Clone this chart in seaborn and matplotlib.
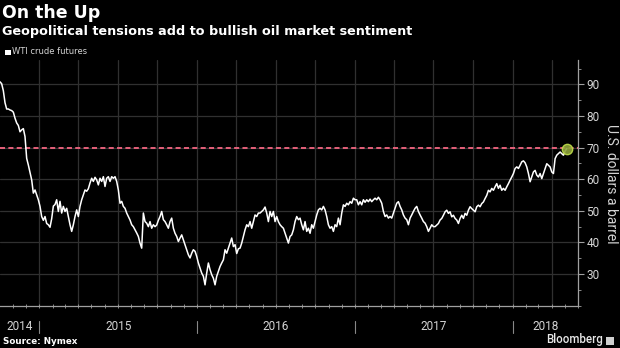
import matplotlib
matplotlib.use("Agg")
import matplotlib.pyplot as plt
import matplotlib.dates as mdates
from matplotlib.ticker import MultipleLocator, FixedLocator, NullFormatter
from matplotlib.patches import Rectangle
import matplotlib.transforms as mtransforms
import numpy as np
import pandas as pd
import seaborn as sns

# ---------------- data ----------------
start_date = "2014-10-02"
end_date = "2018-05-06"

prices_2014_2015 = [
    90.8, 90.2, 88.0, 84.2, 82.2, 82.2, 81.9, 81.7, 81.2, 79.3, 77.8, 77.0, 75.0, 75.6, 76.0, 73.5,
    66.6, 64.5, 62.2, 59.8, 55.6, 56.6, 55.0, 53.5, 51.4, 48.2, 47.0, 48.2, 46.0, 45.6, 44.8, 47.5,
    51.5, 52.0, 53.5, 49.8, 53.0, 49.3, 51.4, 49.8, 50.8, 48.2, 45.6, 43.5, 45.6, 48.2, 50.3, 48.2,
    51.4, 53.5, 55.0, 56.6, 56.2, 57.0, 58.8, 60.3, 59.3, 60.6, 59.8, 58.2, 60.3, 59.3, 60.8, 57.7,
    60.3, 60.8, 59.3, 60.8, 60.3, 60.8, 59.3, 56.6, 52.4, 53.0, 51.4, 50.8, 49.3, 48.2, 47.1, 45.6,
    45.0, 44.0, 43.0, 41.9, 39.8, 38.2, 49.3,
]
prices_2015_2016 = [
    46.6, 46.1, 45.0, 46.6, 44.5, 45.6, 45.0, 45.5, 47.0, 48.2, 49.8, 47.2, 46.6, 45.6, 44.5, 46.6,
    47.7, 44.5, 42.9, 41.9, 40.3, 41.4, 42.4, 40.8, 39.3, 37.7, 36.1, 35.1, 36.6, 37.7, 37.2, 35.6,
    33.5, 31.9, 30.3, 29.3, 26.6, 30.3, 33.5, 31.4, 29.8, 28.7, 26.6, 29.3, 30.8, 32.4, 33.5, 34.5,
    37.7, 36.6, 38.2, 39.8, 41.4, 38.7, 39.3, 36.5, 38.0, 38.2, 39.8, 41.9, 44.0, 45.6, 45.0, 46.6,
    44.5, 46.6, 48.7, 48.2, 49.3, 49.3, 49.8, 50.3, 51.2, 49.3, 46.6, 49.8, 48.2, 49.8, 46.6, 48.2,
    46.6, 45.6, 45.0, 44.5, 42.9, 41.4, 39.8,
]
prices_2016_2017 = [
    41.9, 42.4, 44.0, 46.6, 48.2, 47.2, 47.7, 45.6, 44.0, 46.6, 43.5, 44.5, 42.9, 45.6, 44.5, 46.6,
    48.7, 50.3, 50.8, 50.3, 51.4, 50.3, 48.2, 45.6, 44.5, 45.0, 43.5, 45.6, 45.0, 47.7, 45.6, 49.3,
    51.9, 51.4, 52.4, 51.9, 52.9, 52.4, 54.0, 53.5, 53.5, 51.9, 52.9, 51.9, 53.5, 52.7, 53.5, 52.9,
    53.7, 52.9, 53.5, 54.0, 53.5, 54.3, 53.5, 52.4, 49.8, 48.2, 48.7, 47.7, 48.2, 47.7, 49.3, 50.8,
    52.4, 52.9, 51.4, 50.3, 48.7, 47.7, 47.2, 45.6, 47.7, 48.7, 49.8, 50.8, 51.4, 49.8, 48.7, 47.7,
    46.6, 46.1, 45.0, 43.5, 44.5, 45.6, 45.0,
]
prices_2017_2018 = [
    45.0, 45.5, 46.0, 47.1, 47.6, 48.6, 49.7, 50.2, 49.2, 49.7, 48.1, 48.6, 47.6, 47.1, 46.0, 47.6,
    48.6, 47.6, 49.2, 48.6, 50.2, 51.3, 50.7, 50.2, 49.7, 51.3, 51.8, 51.3, 52.3, 52.8, 53.9, 54.9,
    56.5, 56.0, 57.1, 56.5, 57.6, 58.6, 57.1, 58.1, 56.5, 57.1, 56.5, 57.6, 58.6, 59.7, 60.7, 61.8,
    63.4, 63.9, 63.4, 64.4, 65.5, 65.8, 65.2, 63.9, 61.8, 59.2, 60.7, 62.3, 62.8, 61.3, 60.7, 61.8,
    60.2, 61.8, 63.4, 64.9, 64.4, 63.9, 62.3, 61.8, 66.5, 67.6, 68.1, 68.6, 68.1, 67.6, 68.9, 69.7,
]
prices = prices_2014_2015 + prices_2015_2016 + prices_2016_2017 + prices_2017_2018
dates = pd.date_range(start_date, end_date, periods=len(prices))

threshold = 70
y_ticks = [30, 40, 50, 60, 70, 80, 90]
year_labels = ["2014", "2015", "2016", "2017", "2018"]
x_min, x_max = pd.Timestamp("2014-10-02"), pd.Timestamp("2018-06-01")
y_min, y_max = 20, 97.7

df = pd.DataFrame({"date": dates, "price": prices})

# ---------------- style ----------------
sns.set_theme(style="dark")
BG = "#000000"
GRID = "#303030"
AXIS = "#a0a0a0"
LABEL = "#d4d4d4"
plt.rcParams.update({
    "figure.facecolor": BG, "axes.facecolor": BG, "savefig.facecolor": BG,
    "axes.edgecolor": AXIS, "grid.color": GRID,
})
plt.rcParams["font.family"] = ["DejaVu Sans"]

fig = plt.figure(figsize=(6.2, 3.48), dpi=100)
ax = fig.add_axes([0.0, 1 - 305.7 / 348, 578 / 620, (305.7 - 60) / 348])
ax.set_facecolor(BG)

sns.lineplot(data=df, x="date", y="price", color="white", lw=1.1, ax=ax, zorder=3)
ax.axhline(threshold, color="#e5607a", lw=1.4, ls=(0, (2.6, 1.7)), zorder=2)
ax.scatter([dates[-1]], [prices[-1]], s=55, facecolor="#8ea43a", edgecolor="#c0de4a",
           linewidth=1.0, alpha=0.9, zorder=4)

ax.set_xlim(x_min, x_max)
ax.set_ylim(y_min, y_max)

# grid
ax.xaxis.set_major_locator(mdates.MonthLocator(bymonth=[1, 4, 7, 10]))
ax.xaxis.set_minor_locator(mdates.MonthLocator())
ax.xaxis.set_major_formatter(NullFormatter())
ax.xaxis.set_minor_formatter(NullFormatter())
ax.yaxis.set_major_locator(FixedLocator(y_ticks))
ax.yaxis.set_minor_locator(MultipleLocator(5))
ax.grid(True, which="major", color=GRID, lw=0.9)
ax.grid(False, which="minor")

ax.yaxis.tick_right()
for s in ["top", "left"]:
    ax.spines[s].set_visible(False)
for s in ["right", "bottom"]:
    ax.spines[s].set_visible(True)
    ax.spines[s].set_color(AXIS)
    ax.spines[s].set_linewidth(0.9)

ax.tick_params(axis="y", which="major", right=True, left=False, length=4, width=0.8,
               color=AXIS, labelcolor=LABEL, labelsize=8.5, pad=2, direction="out")
ax.tick_params(axis="y", which="minor", right=True, left=False, length=2, width=0.6,
               color=AXIS, direction="out")
ax.tick_params(axis="x", which="major", bottom=True, length=3, width=0.6, color=AXIS,
               direction="inout")
ax.tick_params(axis="x", which="minor", bottom=True, length=3, width=0.6, color=AXIS,
               direction="inout")
for lab in ax.get_yticklabels():
    lab.set_family("Roboto")
ax.set_xlabel("")
ax.set_ylabel("")

# year separators & labels
trans = mtransforms.blended_transform_factory(ax.transData, ax.transAxes)
h = (305.7 - 60)
for yr in year_labels[1:]:
    d = mdates.date2num(pd.Timestamp(f"{yr}-01-01"))
    ax.plot([d, d], [-(320.7 - 305.7) / h, -(333 - 305.7) / h], transform=trans,
            color="#888888", lw=0.8, clip_on=False)
for yr in year_labels:
    a = max(pd.Timestamp(f"{yr}-01-01"), x_min)
    b = min(pd.Timestamp(f"{int(yr)+1}-01-01"), x_max)
    mid = a + (b - a) / 2
    ax.text(mdates.date2num(mid), -(326.7 - 305.7) / h, yr, transform=trans,
            ha="center", va="center", color=LABEL, fontsize=8.5, family="Roboto")

# texts
fig.text(2 / 620, 1 - 18.3 / 348, "On the Up", color="white", fontsize=12.5,
         fontweight="bold", va="baseline", ha="left")
fig.text(2 / 620, 1 - 35 / 348, "Geopolitical tensions add to bullish oil market sentiment",
         color="white", fontsize=9.15, fontweight="bold", va="baseline", ha="left")
fig.patches.append(Rectangle((5 / 620, 1 - 55 / 348), 5.5 / 620, 5.5 / 348,
                             transform=fig.transFigure, facecolor="white", edgecolor="none"))
fig.text(12.5 / 620, 1 - 52 / 348, "WTI crude futures", color=LABEL, fontsize=6,
         va="center", ha="left")
fig.text(611 / 620, 1 - 184 / 348, "U.S. dollars a barrel", color=LABEL, fontsize=10,
         rotation=270, va="center", ha="center", family="Roboto")
fig.text(3 / 620, 1 - 341.7 / 348, "Source: Nymex", color="white", fontsize=6.3,
         fontweight="bold", va="center", ha="left")
fig.text(603 / 620, 1 - 340 / 348, "Bloomberg", color="#e8e8e8", fontsize=8.3,
         va="center", ha="right", family="Roboto", fontweight="medium")
fig.patches.append(Rectangle((606 / 620, 1 - 344.5 / 348), 8 / 620, 8 / 348,
                             transform=fig.transFigure, facecolor="#cfcfcf", edgecolor="none"))

fig.savefig("out.png", dpi=100, facecolor=BG)
